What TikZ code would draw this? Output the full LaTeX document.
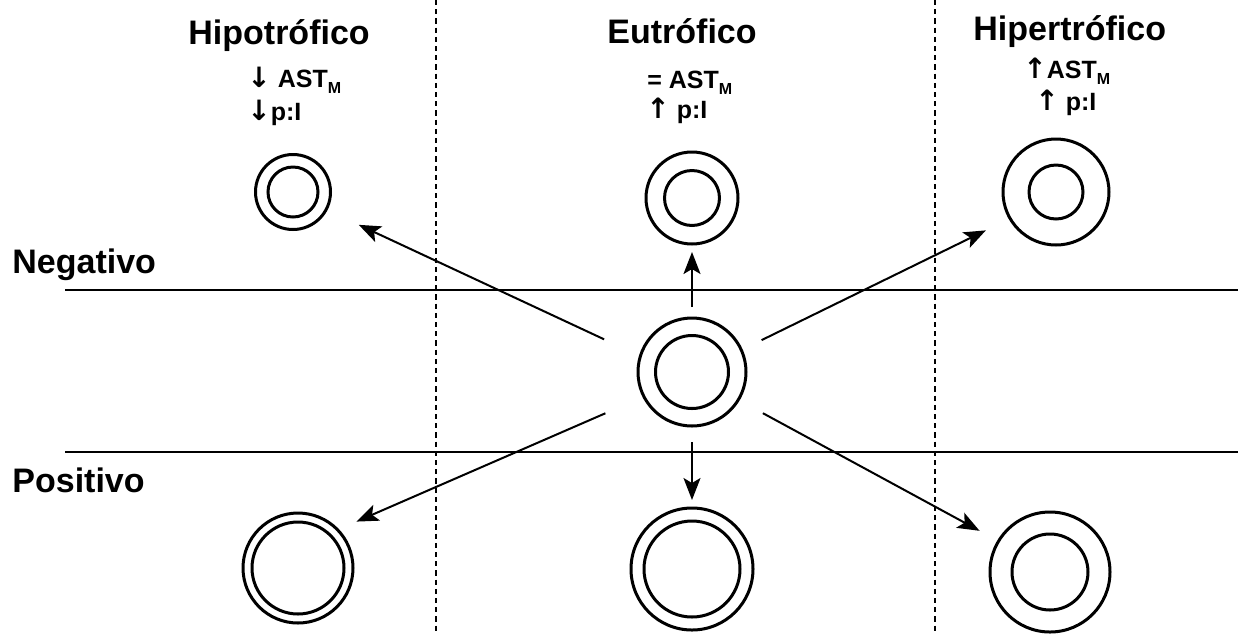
\documentclass[tikz,border=0pt]{standalone}
\usepackage{fontspec}
\setmainfont{Liberation Sans}
\newfontfamily\arwfont{DejaVu Sans}
\usetikzlibrary{arrows.meta}

\newcommand{\astm}{AST\raisebox{-3pt}{\fontsize{8}{9}\selectfont M}}
\newcommand{\dn}{{\arwfont\fontsize{14}{14}\selectfont ↓}}
\newcommand{\up}{{\arwfont\fontsize{14}{14}\selectfont ↑}}

\begin{document}
\begin{tikzpicture}[x=0.5pt,y=-0.5pt,
  ring/.style={circle,draw,line width=1.5pt,inner sep=0pt,outer sep=0pt},
  conn/.style={line width=1pt,-{Stealth[length=11pt,width=8.5pt,inset=2.5pt]}},
  head/.style={anchor=base west,inner sep=0pt,font=\bfseries\fontsize{17}{19}\selectfont},
  sub/.style={anchor=base west,inner sep=0pt,font=\bfseries\fontsize{12.5}{14}\selectfont},
  band/.style={line width=0.7pt},
  col/.style={line width=0.6pt,dash pattern=on 2.6pt off 2pt}]

\useasboundingbox (0,0) rectangle (1238,634);

% column separators
\coordinate (d1t) at (436,0);   \coordinate (d1b) at (436,634);
\coordinate (d2t) at (935,0);   \coordinate (d2b) at (935,634);
\draw[col] (d1t) -- (d1b);
\draw[col] (d2t) -- (d2b);

% row separators
\coordinate (h1l) at (65,290);  \coordinate (h1r) at (1238,290);
\coordinate (h2l) at (65,452);  \coordinate (h2r) at (1238,452);
\draw[band] (h1l) -- (h1r);
\draw[band] (h2l) -- (h2r);

% row labels
\node[head] (neg) at (12,273) {Negativo};
\node[head] (pos) at (12,492) {Positivo};

% column headings
\node[head] (hipo) at (188,44) {Hipotrófico};
\node[head] (eu)   at (607,43) {Eutrófico};
\node[head] (hiper) at (973,40) {Hipertrófico};

\node[sub] (hipoA) at (247,87)  {\dn\ \astm};
\node[sub] (hipoB) at (247,120) {\dn p:I};
\node[sub] (euA)   at (647,88)  {= \astm};
\node[sub] (euB)   at (646,118) {\up\ p:I};
\node[sub] (hiperA) at (1023,78) {\up\astm};
\node[sub] (hiperB) at (1035,110) {\up\ p:I};

% cells: outer wall and lumen
\node[ring,minimum size=37.5pt] (tl) at (293,192) {};
\node[ring,minimum size=25pt]   (tli) at (293,192) {};
\node[ring,minimum size=46pt]   (tm) at (692,198) {};
\node[ring,minimum size=27.5pt] (tmi) at (692,198) {};
\node[ring,minimum size=53pt]   (tr) at (1056,192) {};
\node[ring,minimum size=27pt]   (tri) at (1056,192) {};
\node[ring,minimum size=54pt]   (c) at (692,372) {};
\node[ring,minimum size=36.5pt] (ci) at (692,372) {};
\node[ring,minimum size=55pt]   (bl) at (298,568) {};
\node[ring,minimum size=46pt]   (bli) at (298,568) {};
\node[ring,minimum size=61pt]   (bm) at (692,569) {};
\node[ring,minimum size=48pt]   (bmi) at (692,569) {};
\node[ring,minimum size=60pt]   (br) at (1050,572) {};
\node[ring,minimum size=38pt]   (bri) at (1050,572) {};

% transitions
\draw[conn,shorten <=20pt,shorten >=18pt]   (c.163)   -- (tl.-28);
\draw[conn,shorten <=5.5pt,shorten >=4pt]   (c.90)    -- (tm.-90);
\draw[conn,shorten <=11.3pt,shorten >=13.5pt] (c.24)  -- (tr.210);
\draw[conn,shorten <=21pt,shorten >=10.3pt] (c.207)   -- (bl.44.5);
\draw[conn,shorten <=8pt,shorten >=4pt]     (c.-90)   -- (bm.90);
\draw[conn,shorten <=14pt,shorten >=10.8pt] (c.-31.6) -- (br.149);

\end{tikzpicture}
\end{document}
